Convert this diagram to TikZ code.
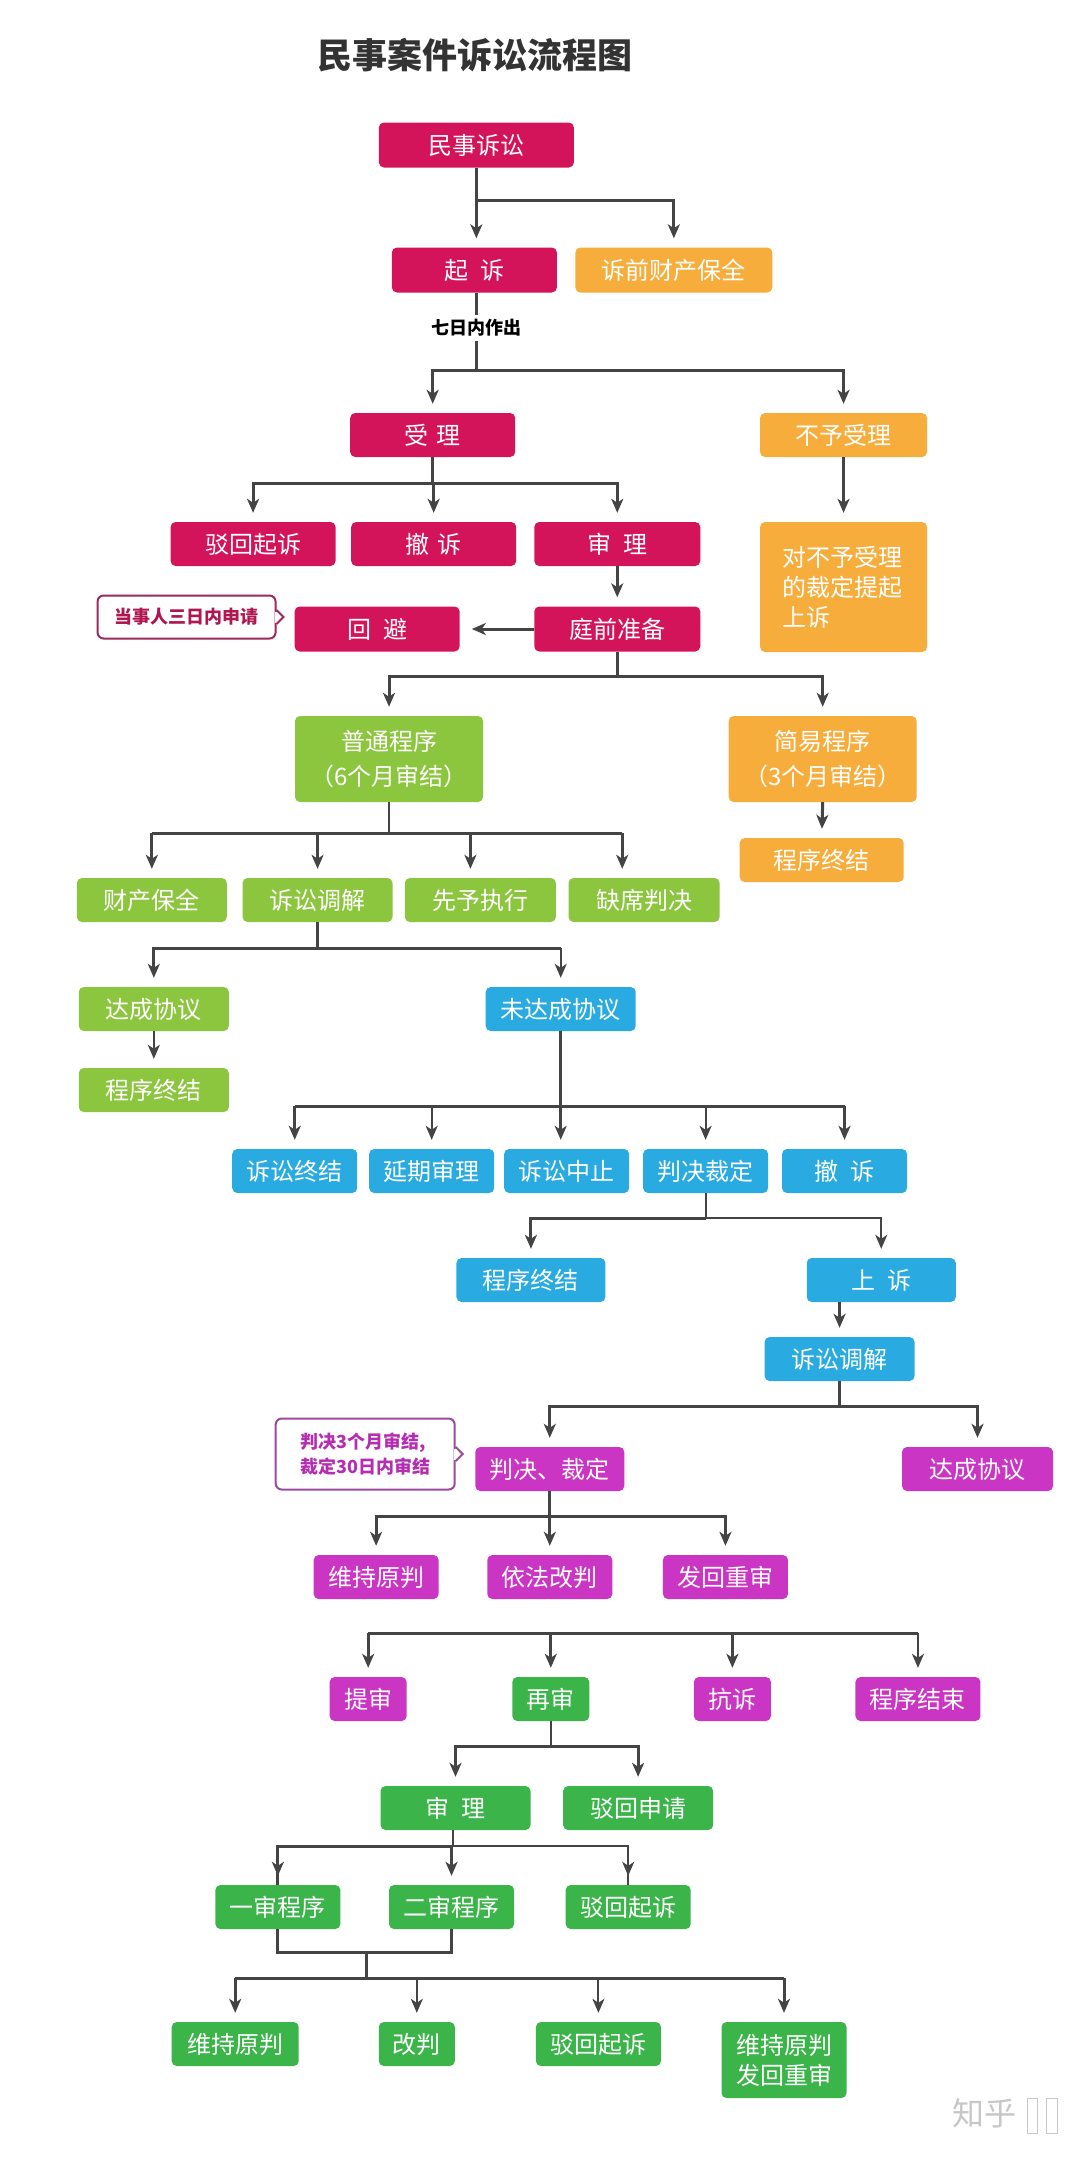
\documentclass[tikz,border=0pt]{standalone}
\usepackage{fontspec}
\newfontfamily\cjk{Noto Sans CJK SC}
\usetikzlibrary{arrows.meta,calc}
\definecolor{cr}{HTML}{D4145A}
\definecolor{og}{HTML}{F7AD3B}
\definecolor{yg}{HTML}{8CC63F}
\definecolor{bl}{HTML}{29ABE2}
\definecolor{mg}{HTML}{CB35C4}
\definecolor{gr}{HTML}{3BB44A}
\definecolor{lc}{HTML}{444444}
\definecolor{ttl}{HTML}{333333}
\definecolor{c1s}{HTML}{9A2A5C}
\definecolor{c1t}{HTML}{B0164F}
\definecolor{c2s}{HTML}{9C4A9C}
\definecolor{c2t}{HTML}{B52DB0}
\begin{document}
\begin{tikzpicture}[x=0.9924pt,y=-1pt,
  bx/.style={rounded corners=5pt, inner sep=0pt, text=white,
    font=\cjk\fontsize{24}{30}\selectfont, minimum height=44pt, align=center},
  ln/.style={draw=lc, line width=3pt},
  lnt/.style={draw=lc, line width=2pt},
  ar/.style={draw=lc, line width=3pt, shorten >=9pt,
    -{Stealth[length=14pt,width=12pt,inset=4pt]}},
  art/.style={draw=lc, line width=2pt, shorten >=9pt,
    -{Stealth[length=14pt,width=12pt,inset=4pt]}},
  callout/.style={rounded corners=6pt, line width=2pt, fill=white, inner sep=0pt,
    font=\cjk\bfseries\fontsize{18}{25}\selectfont, align=left}
]
\useasboundingbox (0,0) rectangle (1096.33,2158);
\fill[white] (0,0) rectangle (1096.33,2158);

% title
\node[text=ttl, font=\cjk\bfseries\fontsize{35}{35}\selectfont] (title) at (479,55) {民事案件诉讼流程图};

% crimson / orange top part
\node[bx, fill=cr, minimum width=195pt, minimum height=45pt] (ms) at (480,145) {民事诉讼};
\node[bx, fill=cr, minimum width=165pt, minimum height=45pt] (qs) at (478,270) {起\hspace{12pt}诉};
\node[bx, fill=og, minimum width=197pt, minimum height=45pt] (bq) at (679,270) {诉前财产保全};
\node[font=\cjk\bfseries\fontsize{18}{18}\selectfont, inner sep=4pt] (qr) at (480,328) {七日内作出};
\node[bx, fill=cr, minimum width=165pt] (sl) at (436,435) {受\hspace{8pt}理};
\node[bx, fill=og, minimum width=167pt] (byl) at (850,435) {不予受理};
\node[bx, fill=cr, minimum width=165pt] (bh) at (255,544) {驳回起诉};
\node[bx, fill=cr, minimum width=165pt] (cs) at (437,544) {撤\hspace{8pt}诉};
\node[bx, fill=cr, minimum width=166pt] (shl) at (622,544) {审\hspace{12pt}理};
\node[bx, fill=og, minimum width=167pt, minimum height=130pt, text width=122pt, align=left] (bsy) at (850,587) {对不予受理\\的裁定提起\\上诉};
\node[bx, fill=cr, minimum width=166pt, minimum height=45pt] (tqzb) at (622,629) {庭前准备};
\node[bx, fill=cr, minimum width=165pt, minimum height=45pt] (hb) at (380,629) {回\hspace{12pt}避};
\node[callout, draw=c1s, text=c1t, minimum width=178pt, minimum height=43pt] (c1) at (188,617) {当事人三日内申请};
\fill[white] ($(c1.east)+(-1.6,-5.5)$) rectangle ($(c1.east)+(1.6,5.5)$);
\draw[c1s, line width=2pt] ($(c1.east)+(0,-7)$) -- ($(c1.east)+(7,0)$) -- ($(c1.east)+(0,7)$);

% procedures
\node[bx, fill=yg, minimum width=188pt, minimum height=86pt, font=\cjk\fontsize{24}{35}\selectfont] (pt) at (392,759) {普通程序\\（6个月审结）};
\node[bx, fill=og, minimum width=188pt, minimum height=86pt, font=\cjk\fontsize{24}{35}\selectfont] (jy) at (829,759) {简易程序\\（3个月审结）};
\node[bx, fill=og, minimum width=164pt] (jz1) at (828,860) {程序终结};

\node[bx, fill=yg, minimum width=150pt] (cb) at (153,900) {财产保全};
\node[bx, fill=yg, minimum width=150pt] (ss1) at (320,900) {诉讼调解};
\node[bx, fill=yg, minimum width=151pt] (xy) at (484,900) {先予执行};
\node[bx, fill=yg, minimum width=151pt] (qx) at (649,900) {缺席判决};

\node[bx, fill=yg, minimum width=150pt] (dc1) at (155,1009) {达成协议};
\node[bx, fill=bl, minimum width=150pt] (wdc) at (565,1009) {未达成协议};
\node[bx, fill=yg, minimum width=150pt] (jz2) at (155,1090) {程序终结};

\node[bx, fill=bl, minimum width=125pt] (sz) at (297,1171) {诉讼终结};
\node[bx, fill=bl, minimum width=125pt] (yq) at (435,1171) {延期审理};
\node[bx, fill=bl, minimum width=125pt] (zz) at (571,1171) {诉讼中止};
\node[bx, fill=bl, minimum width=125pt] (pjcd) at (711,1171) {判决裁定};
\node[bx, fill=bl, minimum width=125pt] (cs2) at (851,1171) {撤\hspace{12pt}诉};

\node[bx, fill=bl, minimum width=149pt] (jz3) at (535,1280) {程序终结};
\node[bx, fill=bl, minimum width=149pt] (ss) at (888,1280) {上\hspace{12pt}诉};
\node[bx, fill=bl, minimum width=150pt] (ss2) at (846,1359) {诉讼调解};

\node[bx, fill=mg, minimum width=149pt] (pjcd2) at (554,1469) {判决、裁定};
\node[bx, fill=mg, minimum width=151pt] (dc2) at (985,1469) {达成协议};
\node[callout, draw=c2s, text=c2t, minimum width=179pt, minimum height=71pt] (c2) at (368,1454) {判决3个月审结,\\裁定30日内审结};
\fill[white] ($(c2.east)+(-1.6,-5.5)$) rectangle ($(c2.east)+(1.6,5.5)$);
\draw[c2s, line width=2pt] ($(c2.east)+(0,-7)$) -- ($(c2.east)+(7,0)$) -- ($(c2.east)+(0,7)$);

\node[bx, fill=mg, minimum width=125pt] (wc1) at (379,1577) {维持原判};
\node[bx, fill=mg, minimum width=125pt] (yf) at (554,1577) {依法改判};
\node[bx, fill=mg, minimum width=125pt] (fh1) at (731,1577) {发回重审};

\node[bx, fill=mg, minimum width=77pt] (ts) at (371,1699) {提审};
\node[bx, fill=gr, minimum width=77pt] (zs) at (555,1699) {再审};
\node[bx, fill=mg, minimum width=77pt] (kss) at (738,1699) {抗诉};
\node[bx, fill=mg, minimum width=125pt] (jsh) at (925,1699) {程序结束};

\node[bx, fill=gr, minimum width=150pt] (sl2) at (459,1808) {审\hspace{12pt}理};
\node[bx, fill=gr, minimum width=150pt] (bs) at (643,1808) {驳回申请};

\node[bx, fill=gr, minimum width=125pt] (ys) at (280,1907) {一审程序};
\node[bx, fill=gr, minimum width=125pt] (es) at (455,1907) {二审程序};
\node[bx, fill=gr, minimum width=125pt] (bh2) at (633,1907) {驳回起诉};

\node[bx, fill=gr, minimum width=127pt] (wc2) at (237,2044) {维持原判};
\node[bx, fill=gr, minimum width=76pt] (gp) at (420,2044) {改判};
\node[bx, fill=gr, minimum width=125pt] (bh3) at (603,2044) {驳回起诉};
\node[bx, fill=gr, minimum width=125pt, minimum height=76pt] (wf) at (790,2060) {维持原判\\发回重审};

% watermark
\node[text=black!22, font=\cjk\fontsize{32}{32}\selectfont] (zh) at (992,2113) {知乎};
\draw[black!22, line width=1pt] (1035,2098) rectangle (1045,2133);
\draw[black!22, line width=1pt] (1055,2098) rectangle (1066,2133);

% ---------------- connectors ----------------
\coordinate (jA) at (480,200);
\draw[ln] (ms.south) -- (jA);
\draw[ar] (jA) -- (jA |- qs.north);
\draw[ar] (jA) -| (bq.north);

\coordinate (jB) at (480,370);
\draw[ln] (qs.south -| qr.north) -- (qr.north);
\draw[ln] (qr.south) -- (jB);
\draw[ar] (jB) -| (sl.north);
\draw[ar] (jB) -| (byl.north);

\coordinate (jC) at (436,483);
\draw[ln] (sl.south) -- (jC);
\draw[ar] (jC) -| (bh.north);
\draw[ar] (jC) -| (shl.north);
\draw[ar] (jC) -- (jC -| cs.north) -- (cs.north);

\draw[ar] (byl.south) -- (bsy.north);
\draw[ar] (shl.south) -- (tqzb.north);
\draw[ar, shorten >=12pt] (tqzb.west) -- (hb.east);

\coordinate (jF) at (622,676);
\draw[ln] (tqzb.south) -- (jF);
\draw[ar] (jF) -| (pt.north);
\draw[ar] (jF) -| (jy.north);
\draw[ar] (jy.south) -- (jz1.north);

\coordinate (jH) at (392,833);
\coordinate (hx3) at (474,833);
\coordinate (hx4) at (627,833);
\draw[lnt] (pt.south) -- (jH);
\draw[ln] (jH -| cb.north) -- (hx4);
\draw[ar] (jH -| cb.north) -- (cb.north);
\draw[ar] (jH -| ss1.north) -- (ss1.north);
\draw[ar] (hx3) -- (hx3 |- xy.north);
\draw[ar] (hx4) -- (hx4 |- qx.north);

\coordinate (jI) at (320,948);
\draw[ln] (ss1.south) -- (jI);
\draw[ar] (jI) -| (dc1.north);
\draw[ln] (jI) -- (jI -| wdc.north);
\draw[art] (jI -| wdc.north) -- (wdc.north);
\draw[art] (dc1.south) -- (jz2.north);

\coordinate (jK) at (565,1106);
\coordinate (kx3) at (565,1106);
\draw[ln] (wdc.south) -- (jK);
\draw[ln] (jK -| sz.north) -- (jK -| cs2.north);
\draw[ar] (jK -| sz.north) -- (sz.north);
\draw[art] (jK -| yq.north) -- (yq.north);
\draw[ar] (kx3) -- (kx3 |- zz.north);
\draw[art] (jK -| pjcd.north) -- (pjcd.north);
\draw[ar] (jK -| cs2.north) -- (cs2.north);

\coordinate (jL) at (711,1218);
\draw[lnt] (pjcd.south) -- (jL);
\draw[ar] (jL) -| (jz3.north);
\draw[art] (jL) -| (ss.north);

\draw[ar] (ss.south -| ss2.north) -- (ss2.north);

\coordinate (jN) at (846,1406);
\draw[ln] (ss2.south) -- (jN);
\draw[ar] (jN) -| (pjcd2.north);
\draw[ar] (jN) -| (dc2.north);

\coordinate (jO) at (554,1516);
\draw[ln] (pjcd2.south) -- (jO);
\draw[ar] (jO) -| (wc1.north);
\draw[ar] (jO) -| (fh1.north);
\draw[ar] (jO) -- (yf.north);

\coordinate (jP) at (555,1633);
\draw[ln] (jP -| ts.north) -- (jP -| jsh.north);
\draw[ar] (jP -| ts.north) -- (ts.north);
\draw[ar] (jP -| zs.north) -- (zs.north);
\draw[ar] (jP -| kss.north) -- (kss.north);
\draw[art] (jP -| jsh.north) -- (jsh.north);

\coordinate (jQ) at (555,1746);
\draw[lnt] (zs.south) -- (jQ);
\draw[ar] (jQ) -| (sl2.north);
\draw[ar] (jQ) -| (bs.north);

\coordinate (jR) at (456,1846);
\draw[lnt] (jR |- sl2.south) -- (jR);
\draw[ln] (jR) -| (ys.north);
\draw[lnt] (jR) -| (bh2.north);
\draw[ar] (jR -| ys.north) -- (ys.north);
\draw[ar] (jR -| es.north) -- (es.north);
\draw[art] (jR -| bh2.north) -- (bh2.north);

\coordinate (jS1) at (369,1952);
\coordinate (jS2) at (369,1978);
\draw[ln] (ys.south) |- (jS1) -| (es.south);
\draw[ln] (jS1) -- (jS2);
\draw[ln] (jS2 -| wc2.north) -- (jS2 -| wf.north);
\draw[ar] (jS2 -| wc2.north) -- (wc2.north);
\draw[art] (jS2 -| gp.north) -- (gp.north);
\draw[art] (jS2 -| bh3.north) -- (bh3.north);
\draw[ar] (jS2 -| wf.north) -- (wf.north);
\end{tikzpicture}
\end{document}
